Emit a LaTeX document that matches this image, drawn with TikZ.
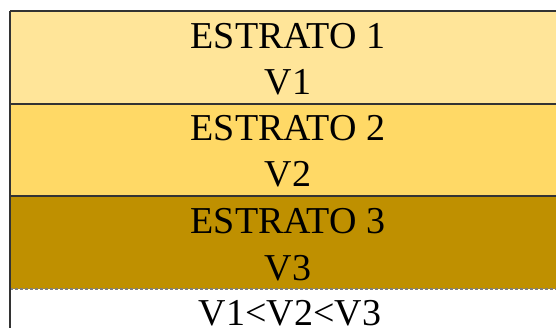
\documentclass[tikz,border=0pt]{standalone}
\usepackage{fontspec}
\setmainfont{Liberation Serif}
\definecolor{stratoA}{HTML}{FFE599}
\definecolor{stratoB}{HTML}{FFD966}
\definecolor{stratoC}{HTML}{BF9000}
\definecolor{edge}{HTML}{333333}
\tikzset{
  layer/.style={anchor=north west, minimum width=560pt, inner sep=0pt, outer sep=0pt},
  lbl/.style={anchor=base, inner sep=0pt, font=\fontsize{38}{46}\selectfont, text=black},
  border/.style={draw=edge, line width=1.6pt},
  lowline/.style={draw=gray, line width=1.2pt, dash pattern=on 3pt off 2pt}
}
\begin{document}
\begin{tikzpicture}[x=1pt,y=-1pt]
\useasboundingbox (0,0) rectangle (556,328);
\fill[white] (0,0) rectangle (556,328);
\node[layer, fill=stratoA, minimum height=93pt] (l1) at (10,11) {};
\node[layer, fill=stratoB, minimum height=92pt] (l2) at (l1.south west) {};
\node[layer, fill=stratoC, minimum height=93pt] (l3) at (l2.south west) {};
\node[layer, fill=white, minimum height=50pt] (l4) at (l3.south west) {};
\node[lbl] (t1a) at (288,49) {ESTRATO 1};
\node[lbl] (t1b) at (288,95) {V1};
\node[lbl] (t2a) at (288,141) {ESTRATO 2};
\node[lbl] (t2b) at (288,187) {V2};
\node[lbl] (t3a) at (288,234) {ESTRATO 3};
\node[lbl] (t3b) at (288,280) {V3};
\node[lbl] (t4) at (290,325) {V1<V2<V3};
\coordinate (lend) at (10,340);
\draw[border] (l1.north west) -- (l1.north east);
\draw[border] (l2.north west) -- (l2.north east);
\draw[border] (l3.north west) -- (l3.north east);
\draw[lowline] (l4.north west) -- (l4.north east);
\draw[border] (l1.north west) -- (lend);
\end{tikzpicture}
\end{document}
